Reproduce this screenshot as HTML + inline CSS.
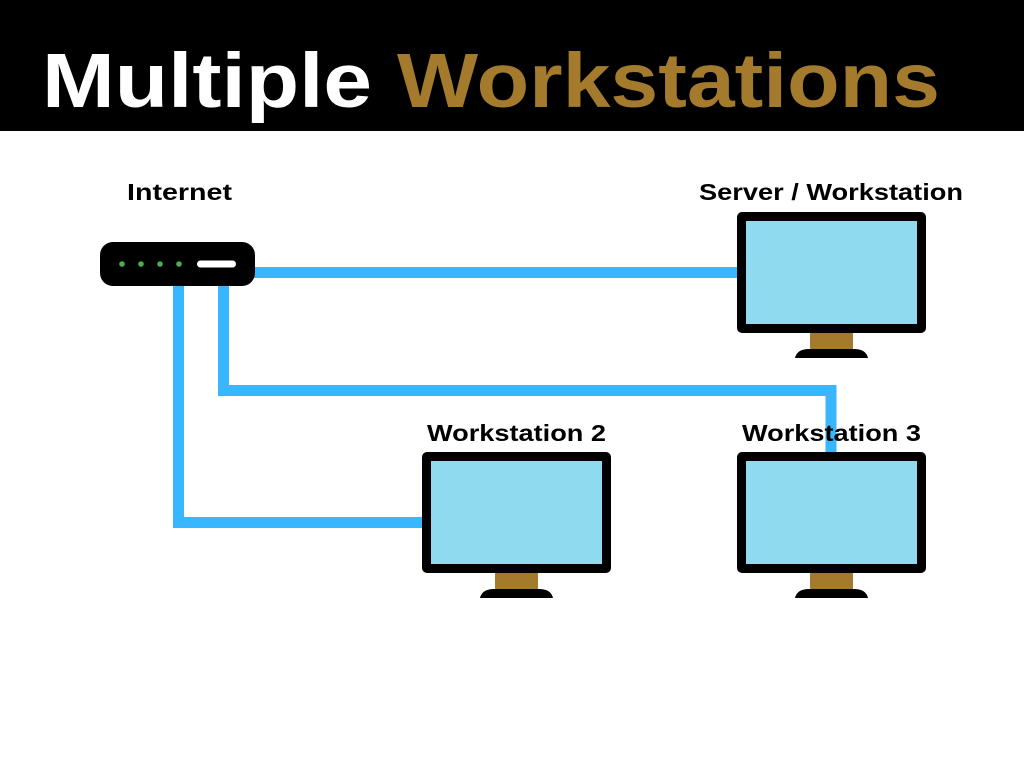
<!DOCTYPE html>
<html><head><meta charset="utf-8"><style>
html,body{margin:0;padding:0;background:#fff;}
svg{display:block}
</style></head><body>
<svg width="1024" height="768" viewBox="0 0 1024 768" xmlns="http://www.w3.org/2000/svg">
<rect x="0" y="0" width="1024" height="131" fill="#000"/>
<text x="42" y="107" font-family="Liberation Sans, sans-serif" font-weight="bold" font-size="77" fill="#fff" textLength="330" lengthAdjust="spacingAndGlyphs">Multiple</text>
<text x="397" y="107" font-family="Liberation Sans, sans-serif" font-weight="bold" font-size="77" fill="#a47a2d" textLength="543" lengthAdjust="spacingAndGlyphs">Workstations</text>

<g fill="none" stroke="#38b6ff" stroke-width="11">
<line x1="250" y1="272.5" x2="740" y2="272.5"/>
<polyline points="223.5,280 223.5,390.5 831,390.5 831,455"/>
<polyline points="178.5,280 178.5,522.5 425,522.5"/>
</g>

<rect x="100" y="242" width="155" height="44" rx="13" fill="#000"/>
<g fill="#4caf50"><circle cx="122" cy="264" r="2.8"/><circle cx="141" cy="264" r="2.8"/><circle cx="160" cy="264" r="2.8"/><circle cx="179" cy="264" r="2.8"/></g>
<rect x="197" y="260.5" width="39" height="7" rx="3.5" fill="#fff"/>

<g font-family="Liberation Sans, sans-serif" font-weight="bold" font-size="23" fill="#000">
<text x="127" y="200" textLength="105" lengthAdjust="spacingAndGlyphs">Internet</text>
<text x="699" y="200" textLength="264" lengthAdjust="spacingAndGlyphs">Server / Workstation</text>
<text x="427" y="441" textLength="179" lengthAdjust="spacingAndGlyphs">Workstation 2</text>
<text x="742" y="441" textLength="179" lengthAdjust="spacingAndGlyphs">Workstation 3</text>
</g>

<defs>
<g id="mon">
<rect x="0" y="0" width="189" height="121" rx="5" fill="#000"/>
<rect x="9" y="9" width="171" height="103" fill="#8fdaee"/>
<rect x="73" y="121" width="43" height="17" fill="#a47a2d"/>
<path d="M58,146 Q60,137 72,137 L117,137 Q129,137 131,146 Z" fill="#000"/>
</g>
</defs>
<use href="#mon" x="737" y="212"/>
<use href="#mon" x="422" y="452"/>
<use href="#mon" x="737" y="452"/>
</svg>
</body></html>
